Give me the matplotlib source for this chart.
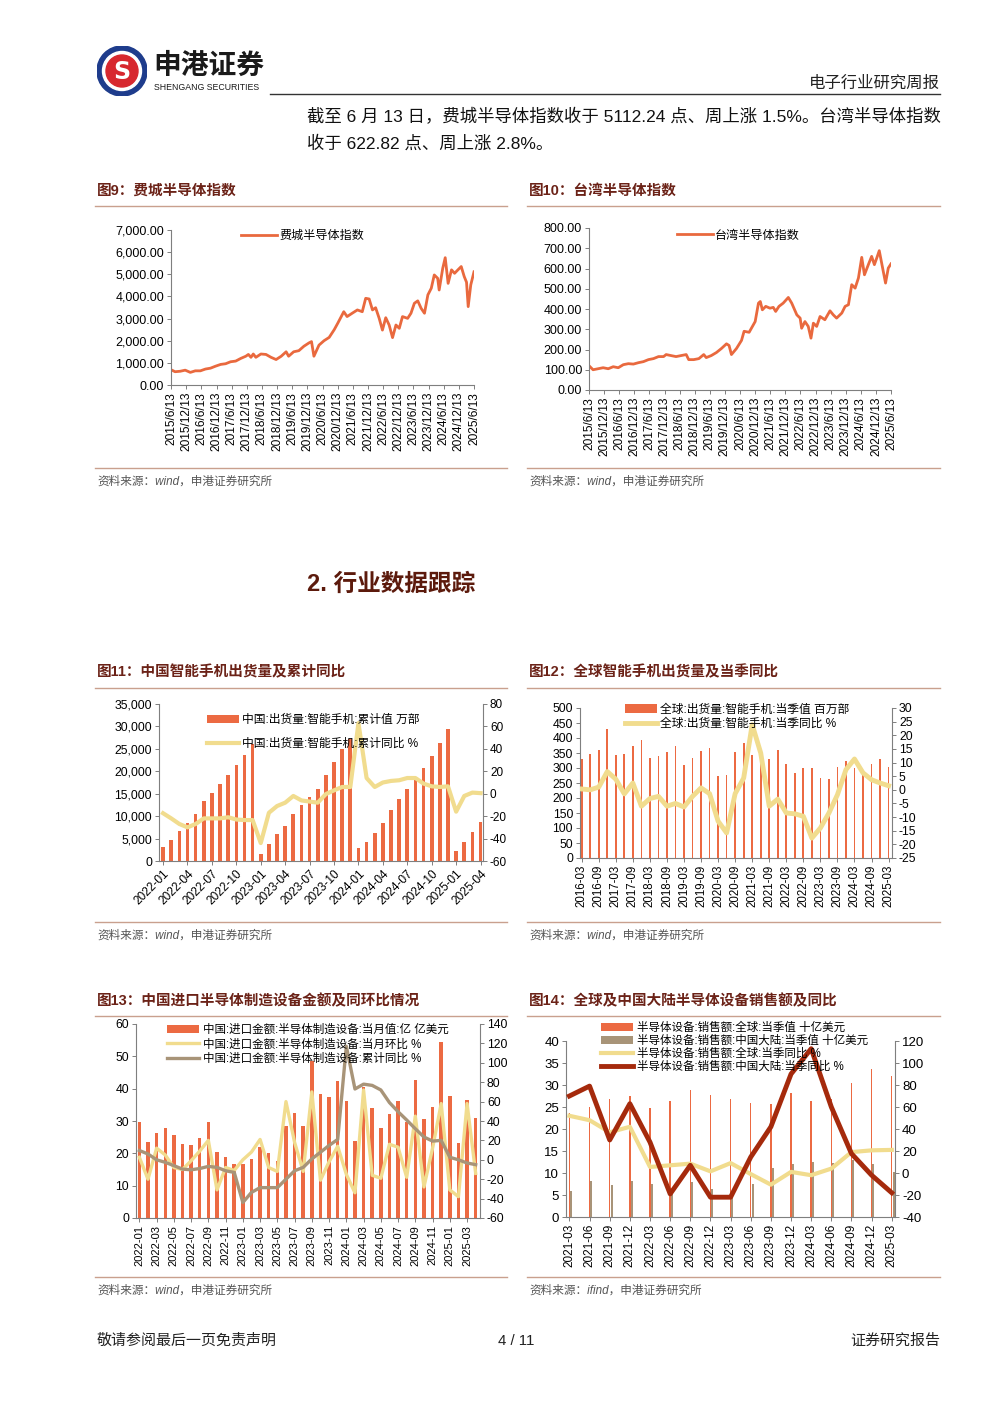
import matplotlib
matplotlib.use('Agg')
import matplotlib.pyplot as plt
from matplotlib.lines import Line2D
from matplotlib.patches import Circle
from matplotlib.ticker import FuncFormatter
import numpy as np
import pandas as pd

plt.rcParams['font.family'] = ['Liberation Sans', 'Noto Sans CJK SC', 'DejaVu Sans']
plt.rcParams['axes.unicode_minus'] = False

W, H = 1000, 1414
ORANGE = '#E9693E'
BAR = '#EC6A42'
YELLOW = '#F1DC8E'
TAUPE = '#A89478'
DARKRED = '#A52A0C'
TITLE_C = '#6B2217'
RULE_C = '#C9A08E'
AX_C = '#7F7F7F'

# ---- Fig 9: SOX index ----
sox_dates = ['2015-06-13', '2015-08', '2015-10', '2015-12', '2016-02', '2016-04', '2016-06',
             '2016-08', '2016-10', '2016-12', '2017-02', '2017-04', '2017-06', '2017-08',
             '2017-10', '2017-12', '2018-01', '2018-02', '2018-03', '2018-04', '2018-06',
             '2018-08', '2018-10', '2018-12', '2019-02', '2019-04', '2019-05', '2019-07',
             '2019-09', '2019-11', '2020-01', '2020-02', '2020-03', '2020-05', '2020-07',
             '2020-09', '2020-11', '2020-12-15', '2021-02-24', '2021-04-05', '2021-06-05',
             '2021-08-07', '2021-10-05', '2021-11-15', '2021-12-27', '2022-02-05',
             '2022-03-15', '2022-04-27', '2022-06-05', '2022-07-15', '2022-08-25',
             '2022-10-05', '2022-11-15', '2022-12-25', '2023-02-02', '2023-04-05',
             '2023-05-15', '2023-06-25', '2023-08-05', '2023-09-15', '2023-10-25',
             '2023-12-05', '2024-01-15', '2024-02-20', '2024-04-01', '2024-04-19',
             '2024-06-01', '2024-07-01', '2024-08-05', '2024-09-15', '2024-10-22',
             '2024-12-01', '2025-01-10', '2025-02-15', '2025-03-15', '2025-04-04',
             '2025-05-05', '2025-06-13']
sox_vals = [690, 600, 620, 670, 570, 640, 640, 720, 760, 850, 930, 960, 1050, 1080,
            1200, 1300, 1380, 1250, 1400, 1250, 1400, 1380, 1250, 1150, 1300, 1500, 1300,
            1500, 1550, 1750, 1900, 1960, 1300, 1800, 2000, 2150, 2500, 2800, 3310, 3090,
            3240, 3390, 3310, 3915, 3885, 3390, 3490, 3010, 2480, 3040, 2710, 2140, 2710,
            2560, 3090, 3010, 3240, 3690, 3800, 3460, 3240, 4070, 4370, 4970, 4820, 4290,
            5270, 5750, 4590, 5200, 5045, 5200, 5350, 4900, 4640, 3540, 4520, 5112]

# ---- Fig 10: Taiwan semiconductor index ----
tw_dates = ['2015-06-13', '2015-08', '2015-10', '2015-12', '2016-02', '2016-04', '2016-06',
            '2016-08', '2016-10', '2016-12', '2017-02', '2017-04', '2017-06', '2017-08',
            '2017-10', '2017-12', '2018-01', '2018-03', '2018-05', '2018-07', '2018-09',
            '2018-10', '2018-12', '2019-02', '2019-04', '2019-05', '2019-07', '2019-09',
            '2019-11', '2020-01', '2020-02', '2020-03', '2020-05', '2020-07', '2020-08',
            '2020-10', '2020-12-13', '2021-01-22', '2021-02-13', '2021-03-10', '2021-04-20',
            '2021-06-10', '2021-07-20', '2021-08-18', '2021-09-27', '2021-11-17',
            '2022-01-18', '2022-02-28', '2022-05-01', '2022-06-10', '2022-06-28',
            '2022-08-07', '2022-09-16', '2022-10-19', '2022-11-17', '2022-12-27',
            '2023-02-06', '2023-04-05', '2023-06-06', '2023-07-16', '2023-08-25',
            '2023-10-27', '2023-12-06', '2024-01-15', '2024-02-24', '2024-04-05',
            '2024-05-15', '2024-06-24', '2024-07-27', '2024-09-12', '2024-10-22',
            '2024-11-24', '2024-12-23', '2025-01-22', '2025-02-28', '2025-04-08',
            '2025-05-11', '2025-06-13']
tw_vals = [120, 100, 105, 110, 105, 115, 110, 125, 130, 128, 135, 140, 150, 155, 165, 165,
           175, 170, 165, 170, 175, 150, 150, 155, 175, 160, 170, 185, 205, 228, 220, 175,
           205, 245, 290, 285, 338, 429, 437, 396, 413, 404, 408, 388, 413, 429, 457, 429,
           371, 355, 305, 338, 314, 256, 330, 314, 363, 347, 391, 371, 355, 380, 413, 421,
           520, 503, 553, 655, 569, 619, 660, 619, 652, 688, 610, 528, 602, 623]

# ---- Fig 11: China smartphone shipments (cumulative, 10k units) ----
m11 = pd.period_range('2022-01', '2025-04', freq='M').strftime('%Y-%m').tolist()
cn_cum = [3230, 4590, 6690, 8500, 10530, 13300, 15190, 17070, 19100, 21500, 23680, 26000,
          1650, 3830, 5940, 7740, 10380, 12400, 14200, 16000, 19250, 22030, 25040, 27100,
          2860, 4290, 6320, 8500, 11430, 13830, 16020, 18120, 20680, 23460, 26320, 29400,
          2330, 4210, 6390, 8650]
cn_cum_yoy = [-17.4, -22, -27, -30, -27, -22, -22, -22, -21, -23, -23.5, -23.5,
              -44, -17, -11, -8, -2, -6, -7, -8, -0.3, 3, 6, 6,
              63, 14, 6, 10, 11.4, 12, 14, 14, 9, 6.6, 6, 6.6,
              -16, -2, 1, 0.5]

# ---- Fig 12: global smartphone shipments (quarterly, mn units) ----
q12 = [f'{p.year}-{p.quarter * 3:02d}' for p in pd.period_range('2016Q1', '2025Q1', freq='Q')]
gl_ship = [330, 346, 361, 430, 344, 348, 372, 394, 333, 341, 355, 374, 310, 333, 358, 368,
           274, 278, 353, 385, 344, 313, 330, 361, 313, 285, 300, 300, 267, 264, 302, 324,
           300, 283, 314, 330, 302]
gl_ship_yoy = [0.3, 0, 1, 6.7, 3.9, -1.5, 2.5, -6, -3.2, -2.4, -6, -5, -6.3, -2.4, 0.7, -1.4,
               -11.5, -15.8, -1.4, 4.3, 23.9, 13.5, -6, -3.4, -8.5, -8.8, -9.7, -17.7, -14,
               -8.5, -1.8, 7.4, 11.3, 6.2, 3.7, 2.5, 1.5]

# ---- Fig 13: China semiconductor equipment imports ----
m13 = pd.period_range('2022-01', '2025-04', freq='M').strftime('%Y-%m').tolist()
imp_val = [29.7, 23.5, 26.4, 27.8, 25.6, 23.0, 22.7, 24.7, 29.7, 20.4, 18.8, 16.7,
           16.7, 18.1, 21.9, 20.1, 17.5, 28.5, 32.4, 28.5, 48.5, 38.3, 37.4, 42.5,
           36.3, 23.8, 40.5, 34.1, 27.7, 32.1, 36.2, 29.7, 42.6, 30.6, 34.3, 54.3,
           37.6, 23.2, 36.5, 31.0]
imp_mom = [2.6, -20, 12, 5, -8, -10, -1, 9, 20, -31, -8, -11,
           0, 8, 21, -8, -12, 60, 18, -12, 70, -21, -2, 14,
           -15, -34, 72, -16, -19, 16, 13, -18, 45, -28, 12, 58,
           -31, -38, 58, -14]
imp_cum_yoy = [9.6, 6, 0, -2.6, -6, -9.6, -10.3, -9, -6.8, -7.8, -11.3, -13,
               -44, -33.6, -28.7, -28.7, -28.7, -20, -11.3, -7.8, 0.9, 7.8, 14.8, 21,
               117, 73, 78, 76.7, 72, 59, 49.6, 41, 32, 23.5, 19.3, 20,
               2.6, 0, -3.3, -5]

# ---- Fig 14: semiconductor equipment sales ----
q14 = [f'{p.year}-{p.quarter * 3:02d}' for p in pd.period_range('2021Q1', '2025Q1', freq='Q')]
eq_global = [23.6, 24.9, 26.8, 27.4, 24.7, 26.4, 28.8, 27.7, 26.8, 25.8, 25.6, 28.1, 26.4,
             26.8, 30.4, 33.6, 32.1]
eq_china = [6.0, 8.2, 7.3, 8.2, 7.6, 5.5, 7.9, 6.3, 5.9, 7.6, 11.1, 12.1, 12.5, 12.2, 13.0,
            12.0, 10.2]
eq_global_yoy = [52, 48, 37, 42, 5.5, 7, 8.5, 1.5, 9, -1, -10.6, 1, -2, 4, 19, 20.6, 21]
eq_china_yoy = [70, 79, 30, 63, 28, -19, 7, -22, -22, 14.5, 42, 90, 113, 60, 17.6, -2, -18]


def fx(px):
    return px / W


def fy(py):
    return 1 - py / H


def add_ax(x0, y0, x1, y1):
    return fig.add_axes([fx(x0), fy(y1), (x1 - x0) / W, (y1 - y0) / H])


def hline(x0, x1, y, color=RULE_C, lw=1.0):
    fig.add_artist(Line2D([fx(x0), fx(x1)], [fy(y), fy(y)], transform=fig.transFigure,
                          color=color, lw=lw))


def style(ax, size=8.5):
    ax.spines['top'].set_visible(False)
    ax.spines['right'].set_visible(False)
    for s in ax.spines.values():
        s.set_color(AX_C)
        s.set_linewidth(0.8)
    ax.tick_params(length=3, width=0.7, color=AX_C, labelsize=size, pad=2)
    ax.set_facecolor('none')


def twin(ax, size=8.5):
    a2 = ax.twinx()
    for s in ['top', 'left', 'bottom']:
        a2.spines[s].set_visible(False)
    a2.spines['right'].set_color(AX_C)
    a2.spines['right'].set_linewidth(0.8)
    a2.tick_params(length=3, width=0.7, color=AX_C, labelsize=size, pad=2)
    return a2


def panel(x0, x1, title, y_title, y_rule, y_src_rule, src):
    fig.text(fx(x0 + 2), fy(y_title), title, fontsize=10.5, fontweight='bold',
             color=TITLE_C, va='center')
    hline(x0, x1, y_rule)
    hline(x0, x1, y_src_rule)
    fig.text(fx(x0 + 2), fy(y_src_rule + 14), src, fontsize=8.4, style='italic',
             color='#555555', va='center')


fig = plt.figure(figsize=(W / 100, H / 100), dpi=100)

# ---- header ----
lax = fig.add_axes([fx(97), fy(96), 50 / W, 50 / H])
lax.set_xlim(-1, 1)
lax.set_ylim(-1, 1)
lax.axis('off')
lax.add_patch(Circle((0, 0), 1.0, color='#1E3C8C'))
lax.add_patch(Circle((0, 0), 0.78, color='white'))
lax.add_patch(Circle((0, 0), 0.64, color='#D7282F'))
lax.text(0, -0.04, 'S', color='white', fontsize=17, fontweight='bold', ha='center',
         va='center', family='DejaVu Sans')
fig.text(fx(153), fy(67), '申港证券', fontsize=20, fontweight='bold', color='#1A1A1A',
         va='center')
fig.text(fx(154), fy(87), 'SHENGANG SECURITIES', fontsize=6.3, color='#1A1A1A', va='center')
fig.text(fx(940), fy(83), '电子行业研究周报', fontsize=11.8, color='#222222', ha='right',
         va='center')
hline(270, 940, 94, color='#333333', lw=1.0)

fig.text(fx(307), fy(117), '截至 6 月 13 日，费城半导体指数收于 5112.24 点、周上涨 1.5%。台湾半导体指数',
         fontsize=12.5, color='#111111', va='center')
fig.text(fx(307), fy(143), '收于 622.82 点、周上涨 2.8%。', fontsize=12.5, color='#111111',
         va='center')

fig.text(fx(307), fy(584), '2. 行业数据跟踪', fontsize=17, fontweight='bold',
         color='#5C1A0C', va='center')

# footer
fig.text(fx(97), fy(1341), '敬请参阅最后一页免责声明', fontsize=10.8, color='#222222', va='center')
fig.text(fx(516), fy(1341), '4 / 11', fontsize=10.8, color='#222222', va='center', ha='center')
fig.text(fx(940), fy(1341), '证券研究报告', fontsize=10.8, color='#222222', va='center', ha='right')

# ---- panels frames ----
panel(95, 507, '图9：费城半导体指数', 191, 206, 468, '资料来源：wind，申港证券研究所')
panel(527, 940, '图10：台湾半导体指数', 191, 206, 468, '资料来源：wind，申港证券研究所')
panel(95, 507, '图11：中国智能手机出货量及累计同比', 672, 688, 922, '资料来源：wind，申港证券研究所')
panel(527, 940, '图12：全球智能手机出货量及当季同比', 672, 688, 922, '资料来源：wind，申港证券研究所')
panel(95, 507, '图13：中国进口半导体制造设备金额及同环比情况', 1001, 1016, 1277,
      '资料来源：wind，申港证券研究所')
panel(527, 940, '图14：全球及中国大陆半导体设备销售额及同比', 1001, 1016, 1277,
      '资料来源：ifind，申港证券研究所')

start, end = pd.Timestamp('2015-06-13'), pd.Timestamp('2025-06-13')
half_years = [pd.Timestamp(year=2015 + k // 2, month=6 if k % 2 == 0 else 12, day=13)
              for k in range(21)]
half_labels = [f'{d.year}/{d.month}/{d.day}' for d in half_years]


def index_chart(box, dates, vals, ymax, ystep, label, lx, ly):
    ax = add_ax(*box)
    style(ax, 9)
    ax.plot(pd.to_datetime(dates, format='ISO8601'), vals, color=ORANGE, lw=2.0, label=label)
    ax.set_xlim(start, end)
    ax.set_ylim(0, ymax)
    ax.set_yticks(np.arange(0, ymax + 1, ystep))
    ax.yaxis.set_major_formatter(FuncFormatter(lambda v, p: f'{v:,.2f}'))
    ax.set_xticks(half_years)
    ax.set_xticklabels(half_labels, rotation=90, fontsize=8.6)
    ax.legend(loc='upper left', bbox_to_anchor=(lx, ly), frameon=False, fontsize=8.7,
              handlelength=3.0, handletextpad=0.2, borderpad=0, borderaxespad=0)
    return ax


index_chart((171, 230, 474, 385), sox_dates, sox_vals, 7000, 1000, '费城半导体指数', 0.23, 1.0)
index_chart((589, 228, 891, 390), tw_dates, tw_vals, 800, 100, '台湾半导体指数', 0.29, 0.99)

# ---- Fig 11 ----
ax = add_ax(159, 704, 483, 861)
style(ax, 8.8)
x = np.arange(len(m11))
ax.bar(x, cn_cum, width=0.45, color=BAR, label='中国:出货量:智能手机:累计值 万部')
ax.set_xlim(-0.5, 39.3)
ax.set_ylim(0, 35000)
ax.set_yticks(np.arange(0, 35001, 5000))
ax.yaxis.set_major_formatter(FuncFormatter(lambda v, p: f'{v:,.0f}'))
ax.set_xticks(x[::3])
ax.set_xticklabels(m11[::3], rotation=45, ha='right', rotation_mode='anchor', fontsize=8.6)
a2 = twin(ax, 8.5)
a2.plot(x, cn_cum_yoy, color=YELLOW, lw=3, label='中国:出货量:智能手机:累计同比 %')
a2.set_ylim(-60, 80)
a2.set_yticks(np.arange(-60, 81, 20))
h1, l1 = ax.get_legend_handles_labels()
h2, l2 = a2.get_legend_handles_labels()
a2.legend(h1 + h2, l1 + l2, loc='upper left', bbox_to_anchor=(0.148, 0.935), frameon=False,
          fontsize=8.5, handlelength=2.7, handletextpad=0.3, labelspacing=1.0,
          borderpad=0, borderaxespad=0)

# ---- Fig 12 ----
ax = add_ax(580, 708, 892, 858)
style(ax, 8.8)
x = np.arange(len(q12))
ax.bar(x, gl_ship, width=0.2, color=BAR, label='全球:出货量:智能手机:当季值 百万部')
ax.set_xlim(-0.2, 36.4)
ax.set_ylim(0, 500)
ax.set_yticks(np.arange(0, 501, 50))
ax.set_xticks(x[::2])
ax.set_xticklabels(q12[::2], rotation=90, fontsize=8.3)
a2 = twin(ax, 8.8)
a2.plot(x, gl_ship_yoy, color=YELLOW, lw=3.5, label='全球:出货量:智能手机:当季同比 %')
a2.set_ylim(-25, 30)
a2.set_yticks(np.arange(-25, 31, 5))
h1, l1 = ax.get_legend_handles_labels()
h2, l2 = a2.get_legend_handles_labels()
a2.legend(h1 + h2, l1 + l2, loc='upper left', bbox_to_anchor=(0.144, 1.03), frameon=False,
          fontsize=8.5, handlelength=2.7, handletextpad=0.3, labelspacing=0.2,
          borderpad=0, borderaxespad=0)

# ---- Fig 13 ----
ax = add_ax(136, 1024, 480, 1218)
style(ax, 8.8)
x = np.arange(len(m13))
ax.bar(x, imp_val, width=0.4, color=BAR, label='中国:进口金额:半导体制造设备:当月值:亿 亿美元')
ax.set_xlim(-0.39, 39.5)
ax.set_ylim(0, 60)
ax.set_yticks(np.arange(0, 61, 10))
ax.set_xticks(x[::2])
ax.set_xticklabels(m13[::2], rotation=90, fontsize=8.0)
a2 = twin(ax, 8.8)
a2.plot(x, imp_mom, color=YELLOW, lw=2.4, label='中国:进口金额:半导体制造设备:当月环比 %')
a2.plot(x, imp_cum_yoy, color=TAUPE, lw=2.4, label='中国:进口金额:半导体制造设备:累计同比 %')
a2.set_ylim(-60, 140)
a2.set_yticks(np.arange(-60, 141, 20))
h1, l1 = ax.get_legend_handles_labels()
h2, l2 = a2.get_legend_handles_labels()
a2.legend(h1 + h2, l1 + l2, loc='upper left', bbox_to_anchor=(0.09, 1.0), frameon=False,
          fontsize=8.3, handlelength=2.8, handletextpad=0.3, labelspacing=0.2,
          borderpad=0, borderaxespad=0)

# ---- Fig 14 ----
ax = add_ax(566, 1041, 895, 1217)
style(ax, 9.5)
x = np.arange(len(q14))
ax.bar(x, eq_global, width=0.07, color=BAR, label='半导体设备:销售额:全球:当季值 十亿美元')
ax.bar(x + 0.09, eq_china, width=0.1, color=TAUPE, label='半导体设备:销售额:中国大陆:当季值 十亿美元')
ax.set_xlim(-0.17, 16.16)
ax.set_ylim(0, 40)
ax.set_yticks(np.arange(0, 41, 5))
ax.set_xticks(x)
ax.set_xticklabels(q14, rotation=90, fontsize=8.5)
a2 = twin(ax, 9.5)
a2.plot(x, eq_global_yoy, color=YELLOW, lw=3, label='半导体设备:销售额:全球:当季同比 %')
a2.plot(x, eq_china_yoy, color=DARKRED, lw=3.5, label='半导体设备:销售额:中国大陆:当季同比 %')
a2.set_ylim(-40, 120)
a2.set_yticks(np.arange(-40, 121, 20))
h1, l1 = ax.get_legend_handles_labels()
h2, l2 = a2.get_legend_handles_labels()
a2.legend(h1 + h2, l1 + l2, loc='upper left', bbox_to_anchor=(0.106, 1.11), frameon=False,
          fontsize=8.3, handlelength=2.8, handletextpad=0.3, labelspacing=0.1,
          borderpad=0, borderaxespad=0)

fig.savefig('out.png', dpi=100)
